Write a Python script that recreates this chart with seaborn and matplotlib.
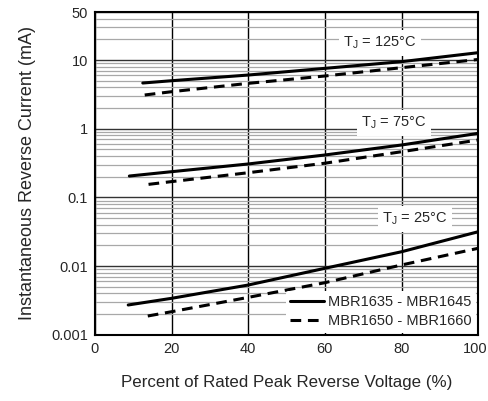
import numpy as np
import pandas as pd
import matplotlib
matplotlib.use('Agg')
import matplotlib.pyplot as plt
import matplotlib.transforms as mtransforms
import seaborn as sn
from matplotlib.ticker import LogLocator, NullFormatter

# Dados (corrente reversa em mA)
x_125_solid = [12.5, 20, 40, 60, 80, 100]
y_125_solid = [4.63, 5.0, 6.05, 7.57, 9.47, 12.8]
x_125_dash = [13, 20, 40, 60, 80, 100]
y_125_dash = [3.10, 3.46, 4.58, 5.86, 7.74, 10.2]

x_75_solid = [9, 20, 40, 60, 80, 100]
y_75_solid = [0.205, 0.237, 0.307, 0.415, 0.58, 0.857]
x_75_dash = [14, 20, 40, 60, 80, 100]
y_75_dash = [0.155, 0.17, 0.229, 0.315, 0.463, 0.686]

x_25_solid = [8.7, 20, 40, 60, 80, 100]
y_25_solid = [0.00272, 0.0034, 0.00531, 0.0093, 0.0162, 0.0317]
x_25_dash = [13.8, 20, 40, 60, 80, 100]
y_25_dash = [0.00188, 0.00217, 0.00351, 0.00574, 0.0104, 0.0182]

serie_labels = ['MBR1635 - MBR1645', 'MBR1650 - MBR1660']
temp_labels = ['125', '75', '25']
temp_pos = [(64.7, 17.7), (69.5, 1.21), (75, 0.0485)]
y_ticks = [0.001, 0.01, 0.1, 1, 10, 50]
y_ticklabels = ['0.001', '0.01', '0.1', '1', '10', '50']
x_ticks = [0, 20, 40, 60, 80, 100]

sn.set_style('white')
plt.rcParams['font.family'] = ['Liberation Sans', 'DejaVu Sans']
plt.rcParams['mathtext.fontset'] = 'custom'
plt.rcParams['mathtext.rm'] = 'Liberation Sans'

fig = plt.figure(figsize=(4.89, 4.01), dpi=100)
ax = fig.add_axes([0.194, 0.165, 0.784, 0.805])
ax.set_yscale('log')
ax.set_xlim(0, 100)
ax.set_ylim(0.001, 50)

# grade
ax.yaxis.set_minor_locator(LogLocator(base=10, subs=np.arange(2, 10)))
ax.yaxis.set_minor_formatter(NullFormatter())
ax.grid(which='minor', axis='y', color='#a8a8a8', linewidth=0.9)
ax.grid(which='major', axis='y', color='#333333', linewidth=1.0)
ax.grid(which='major', axis='x', color='black', linewidth=1.0)
ax.set_axisbelow(True)

solidos = [(x_125_solid, y_125_solid), (x_75_solid, y_75_solid), (x_25_solid, y_25_solid)]
tracejados = [(x_125_dash, y_125_dash), (x_75_dash, y_75_dash), (x_25_dash, y_25_dash)]
for i, (xs, ys) in enumerate(solidos):
    sn.lineplot(x=xs, y=ys, ax=ax, color='black', linewidth=2.2,
                label=serie_labels[0] if i == 0 else None)
for i, (xs, ys) in enumerate(tracejados):
    sn.lineplot(x=xs, y=ys, ax=ax, color='black', linewidth=2.2, dashes=False,
                linestyle=(0, (3.5, 2.2)),
                label=serie_labels[1] if i == 0 else None)

for t, (tx, ty) in zip(temp_labels, temp_pos):
    ax.text(tx, ty, 'T$_\\mathregular{J}$ = ' + t + '°C', fontsize=10.5, ha='left', va='center',
            bbox=dict(facecolor='white', edgecolor='none', pad=3))

ax.set_yticks(y_ticks)
ax.set_yticklabels(y_ticklabels)
ax.set_xticks(x_ticks)
ax.tick_params(axis='both', labelsize=10.5, length=0, pad=5)
# puxa o rótulo "100" um pouco para dentro da figura
ultimo = ax.get_xticklabels()[-1]
ultimo.set_transform(ultimo.get_transform() + mtransforms.ScaledTranslation(-3 / 100, 0, fig.dpi_scale_trans))
for s in ax.spines.values():
    s.set_color('black')
    s.set_linewidth(1.5)

ax.set_ylabel('Instantaneous Reverse Current (mA)', fontsize=13, labelpad=11)
ax.set_xlabel('Percent of Rated Peak Reverse Voltage (%)', fontsize=12.2, labelpad=14)

leg = ax.legend(loc='lower right', fontsize=10.5, frameon=True, handlelength=2.3,
                borderaxespad=0.15, labelspacing=0.35, handletextpad=0.3, borderpad=0.3)
leg.get_frame().set_facecolor('white')
leg.get_frame().set_edgecolor('none')
leg.get_frame().set_alpha(1)

plt.savefig('out.png', dpi=100)
plt.close()
